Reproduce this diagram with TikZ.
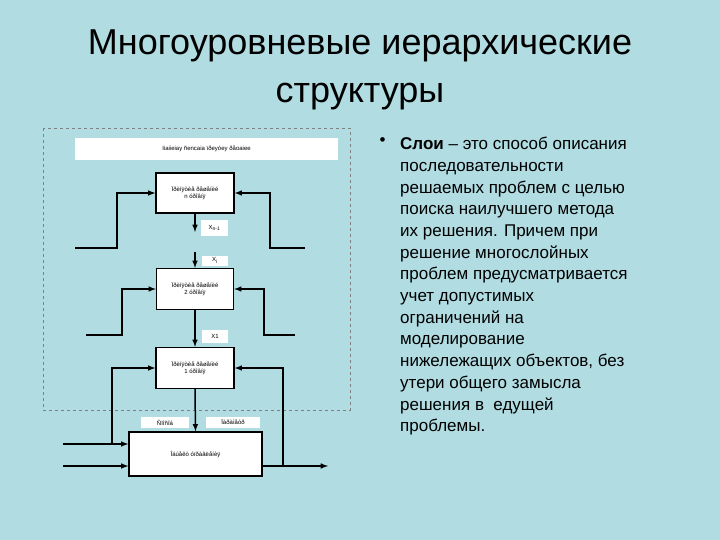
\documentclass[tikz,border=0pt]{standalone}
\usepackage{fontspec}
\setmainfont{Liberation Sans}
\begin{document}
\begin{tikzpicture}[x=1pt,y=-1pt,
 wb/.style={draw=black,line width=1.3pt,fill=white,font=\fontsize{6}{6.5}\selectfont,align=center,inner sep=0},
 lb/.style={fill=white,font=\fontsize{6}{6.5}\selectfont,inner sep=0},
 ln/.style={line width=1.5pt},
 ar/.style={line width=1.5pt,-latex}]
\fill[fill={rgb,255:red,176;green,220;blue,226}] (0,0) rectangle (720,540);
\useasboundingbox (0,0) rectangle (720,540);
\node[font=\fontsize{36}{48}\selectfont,align=center] (title) at (360,70) {Многоуровневые иерархические\\структуры};
\draw[gray,dashed,line width=0.5pt] (43,128) rectangle (350,410);
\node[lb,minimum width=263,minimum height=22] (top) at (206.5,149) {Iiaiieiay ñencaia ïðeyóey ðåoaiee};
\node[wb,minimum width=78,minimum height=40] (bn) at (195,193) {Ïðèíÿòèå ðåøåíèé\\n óðîâíÿ};
\node[wb,minimum width=77,minimum height=41] (b2) at (195,289) {Ïðèíÿòèå ðåøåíèé\\2 óðîâíÿ};
\node[wb,minimum width=78,minimum height=41] (b1) at (195,368) {Ïðèíÿòèå ðåøåíèé\\1 óðîâíÿ};
\node[wb,minimum width=133,minimum height=44] (bb) at (195.5,454) {Îáúåêò óïðàâëåíèÿ};
\node[lb,minimum width=27,minimum height=15] (lxn) at (214.5,228) {X\textsubscript{n-1}};
\node[lb,minimum width=26,minimum height=10] (lxi) at (215,260.5) {X\textsubscript{i}};
\node[lb,minimum width=26,minimum height=13] (lx1) at (215,336.5) {X1};
\node[lb,minimum width=48,minimum height=11] (ls) at (165,422.5) {Ñïîñîá};
\node[lb,minimum width=54,minimum height=11] (lp) at (233,422.5) {Ïàðàìåòð};
\coordinate (e1) at (195,232); \coordinate (s2) at (195,252);
\draw[ar] (bn.south) -- (e1);
\draw[ar] (s2) -- (b2.north);
\draw[ar] (b2.south) -- (b1.north);
\draw[ar] (b1.south) -- (bb.north);
\coordinate (a1) at (75,248); \coordinate (a2) at (305,248);
\draw[ar] (a1) -| (117,193) -- (bn.west|-0,193);
\draw[ar] (a2) -| (270,193) -- (bn.east|-0,193);
\coordinate (c1) at (86,335); \coordinate (c2) at (295,335);
\draw[ar] (c1) -| (122,289) -- (b2.west);
\draw[ar] (c2) -| (264,289) -- (b2.east);
\coordinate (i1) at (63,444); \coordinate (i2) at (63,466); \coordinate (o1) at (328,466);
\draw[ar] (i1) -- (bb.west|-i1);
\draw[ar] (i2) -- (bb.west|-i2);
\draw[ar] (bb.east|-o1) -- (o1);
\draw[ar] (112,444) |- (b1.west);
\draw[ar] (283,466) |- (b1.east);
\node[font=\fontsize{17}{21.7}\selectfont,anchor=north west,align=left] (bul) at (376,134) {•};
\node[font=\fontsize{17}{21.7}\selectfont,anchor=north west,align=left,inner sep=0] (txt) at (400,137) {\textbf{Слои} – это способ описания\\последовательности\\решаемых проблем с целью\\поиска наилучшего метода\\их решения. Причем при\\решение многослойных\\проблем предусматривается\\учет допустимых\\ограничений на\\моделирование\\нижележащих объектов, без\\утери общего замысла\\решения в~ едущей\\проблемы.};
\end{tikzpicture}
\end{document}
